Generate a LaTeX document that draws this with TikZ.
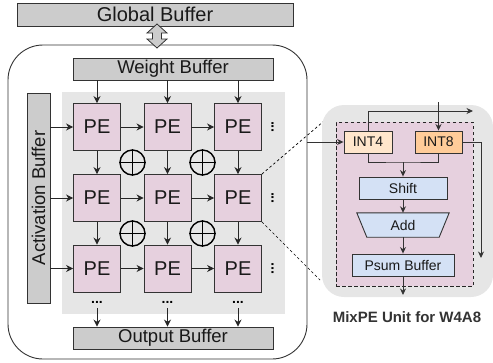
\documentclass[tikz,border=0pt]{standalone}
\usepackage{fontspec}
\setmainfont{Liberation Sans}
\usetikzlibrary{arrows.meta,calc}
\definecolor{bufgray}{HTML}{CCCCCC}
\definecolor{bggray}{HTML}{E6E6E6}
\definecolor{pepink}{HTML}{E6D0DE}
\definecolor{lblue}{HTML}{D4E1F5}
\definecolor{peach}{HTML}{FFE6CC}
\definecolor{orng}{HTML}{FFCC99}
\definecolor{edgec}{HTML}{333333}
\begin{document}
\begin{tikzpicture}[x=1pt,y=-1pt,
  buf/.style={draw=edgec, fill=bufgray, line width=0.9pt, inner sep=0pt, text=black!90},
  pebox/.style={draw=edgec, fill=pepink, line width=0.9pt, minimum width=47pt, minimum height=47pt, inner sep=0pt, font=\fontsize{20}{22}\selectfont, text=black!90},
  arr/.style={-{Stealth[length=7pt,width=7pt]}, line width=0.9pt, draw=black!85},
  parr/.style={-{Stealth[length=6.5pt,width=6pt]}, line width=0.9pt, draw=edgec},
  oplus/.style={circle, draw=black, line width=1.4pt, minimum size=25pt, inner sep=0pt},
  vdots/.style={inner sep=0pt, anchor=base, rotate=90, font=\fontsize{14}{14}\bfseries\selectfont},
  hdots/.style={inner sep=0pt, anchor=base, font=\fontsize{14}{14}\bfseries\selectfont},
  unit/.style={draw=edgec, line width=0.9pt, inner sep=0pt, minimum height=22pt, font=\fontsize{14}{16}\selectfont, text=black!90},
  zoomline/.style={draw=black, line width=0.7pt, dash pattern=on 2.5pt off 2.5pt}
]
\useasboundingbox (0,0) rectangle (493,362);

% outer container
\node[draw=edgec, line width=0.9pt, rounded corners=35pt, minimum width=299pt, minimum height=314pt, inner sep=0pt] (outer) at (157.5,202) {};

% global buffer
\node[buf, minimum width=276pt, minimum height=23pt, font=\fontsize{20}{22}\selectfont] (global) at (155,14.5) {Global Buffer};

% double arrow
\draw[draw=edgec, fill=bufgray, line width=0.8pt] (157,24) -- (167,33) -- (161.5,33) -- (161.5,39) -- (167,39) -- (157,48) -- (147,39) -- (152.5,39) -- (152.5,33) -- (147,33) -- cycle;

% weight buffer
\node[buf, minimum width=200pt, minimum height=22pt, font=\fontsize{18.5}{20}\selectfont] (weight) at (173,69) {Weight Buffer};

% PE array background
\node[fill=bggray, minimum width=223pt, minimum height=222pt, inner sep=0pt] (array) at (173.5,203) {};

% activation buffer
\node[buf, minimum width=23pt, minimum height=210pt] (act) at (38.5,198) {};
\node[rotate=90, inner sep=0pt, font=\fontsize{18.5}{20}\selectfont, text=black!90] (acttext) at (38.5,198) {Activation Buffer};

% output buffer
\node[buf, minimum width=200pt, minimum height=22pt, font=\fontsize{18.5}{20}\selectfont] (output) at (173,338) {Output Buffer};

% PEs
\node[pebox] (p11) at (97,127) {PE};
\node[pebox] (p12) at (167.5,127) {PE};
\node[pebox] (p13) at (238,127) {PE};
\node[pebox] (p21) at (97,198) {PE};
\node[pebox] (p22) at (167.5,198) {PE};
\node[pebox] (p23) at (238,198) {PE};
\node[pebox] (p31) at (97,268.5) {PE};
\node[pebox] (p32) at (167.5,268.5) {PE};
\node[pebox] (p33) at (238,268.5) {PE};

% oplus
\foreach \n/\x/\y in {o1/132.5/162.5, o2/202.5/162.5, o3/132.5/233.5, o4/202.5/233.5}{
  \node[oplus] (\n) at (\x,\y) {};
  \draw[line width=1.4pt] (\n.north) -- (\n.south) (\n.west) -- (\n.east);
}

% dots
\node[vdots] (vd1) at (273.5,127) {...};
\node[vdots] (vd2) at (273.5,198) {...};
\node[vdots] (vd3) at (273.5,268.5) {...};
\node[hdots] (hd1) at (97,303.5) {...};
\node[hdots] (hd2) at (167.5,303.5) {...};
\node[hdots] (hd3) at (238,303.5) {...};

% weight arrows
\foreach \c in {1,2,3}{
  \draw[arr] (weight.south -| p1\c) -- (p1\c.north);
}
% activation arrows
\foreach \r in {1,2,3}{
  \draw[arr] (act.east |- p\r1) -- (p\r1.west);
  \draw[arr] (p\r1.east) -- (p\r2.west);
  \draw[arr] (p\r2.east) -- (p\r3.west);
}
% vertical arrows
\foreach \c in {1,2,3}{
  \draw[arr] (p1\c.south) -- (p2\c.north);
  \draw[arr] (p2\c.south) -- (p3\c.north);
}
% output arrows
\coordinate (d1) at (97,308);
\coordinate (d2) at (167.5,308);
\coordinate (d3) at (238,308);
\foreach \c in {1,2,3}{
  \draw[arr] (d\c) -- (d\c |- output.north);
}

% zoom lines
\coordinate (zt) at (324,121);
\coordinate (zb) at (320,280);
\draw[zoomline] (p23.north east) -- (zt);
\draw[zoomline] (p23.south east) -- (zb);

% MixPE panel
\node[fill=bggray, rounded corners=22pt, minimum width=171pt, minimum height=192pt, inner sep=0pt] (panel) at (407.5,201) {};
\node[fill=pepink, draw=black!85, line width=0.9pt, dash pattern=on 3.5pt off 2.5pt, minimum width=137pt, minimum height=164pt, inner sep=0pt] (mix) at (404.5,204) {};

\node[unit, fill=peach, minimum width=48pt] (int4) at (368,142) {INT4};
\node[unit, fill=orng, minimum width=47pt] (int8) at (438.5,142) {INT8};
\node[unit, fill=lblue, minimum width=88pt] (shift) at (403,188) {Shift};
\node[inner sep=0pt, minimum width=72pt, minimum height=24pt, font=\fontsize{14}{16}\selectfont, text=black!90] (add) at (403,225) {};
\draw[draw=edgec, fill=lblue, line width=0.9pt] ($(add.north west)+(-10,0)$) -- ($(add.north east)+(10,0)$) -- (add.south east) -- (add.south west) -- cycle;
\node[inner sep=0pt, font=\fontsize{14}{16}\selectfont, text=black!90] at (add) {Add};
\node[unit, fill=lblue, minimum width=102pt] (psum) at (403,265) {Psum Buffer};

\coordinate (inL) at (outer.east |- int4);
\draw[parr] (inL) -- (int4.west);
\coordinate (inT) at (438.5,102);
\draw[parr] (inT) -- (int8.north);
\coordinate (outT) at (473,111);
\draw[parr] (int4.north) |- (outT);
\coordinate (outR) at (481,258);
\draw[parr] (int8.east) -| (outR);
\coordinate (mrg) at (403,162);
\draw[line width=0.9pt, draw=edgec] (int4.south) |- (mrg) -| (int8.south);
\draw[parr] (mrg) -- (shift.north);
\draw[parr] (shift.south) -- (add.north);
\draw[parr] (add.south) -- (psum.north);
\coordinate (outB) at (403,295);
\draw[parr] (psum.south) -- (outB);

\node[font=\fontsize{15}{17}\bfseries\selectfont, text=black!80, inner sep=0pt] (label) at (407,317) {MixPE Unit for W4A8};
\end{tikzpicture}
\end{document}
